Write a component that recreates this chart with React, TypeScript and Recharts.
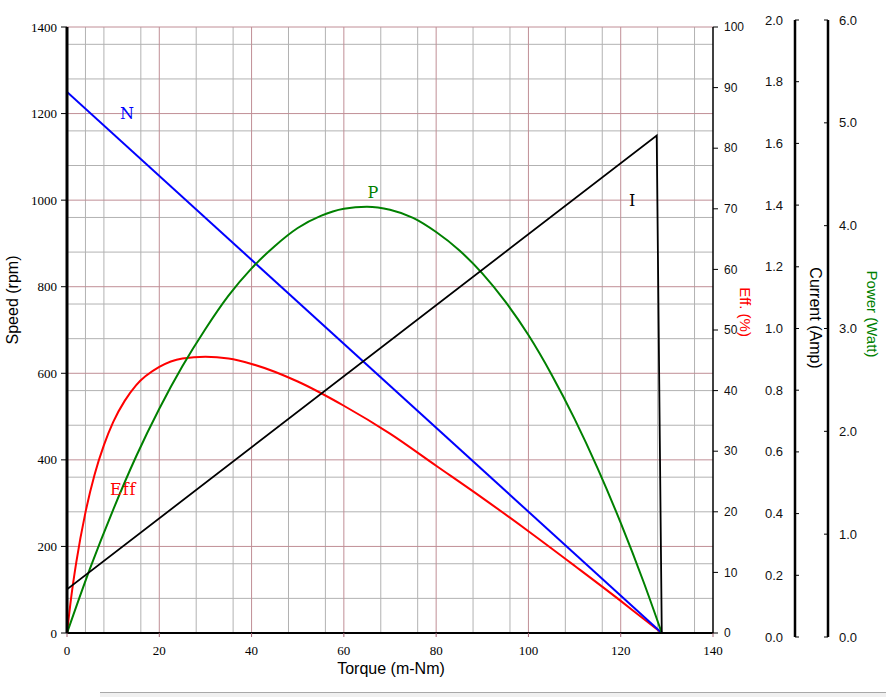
import {
  ComposedChart, Line, XAxis, YAxis, CartesianGrid, ReferenceDot,
} from 'recharts';

// torque axis (m-Nm)
const torqueTicks = [0, 20, 40, 60, 80, 100, 120, 140];
const speedTicks = [0, 200, 400, 600, 800, 1000, 1200, 1400];
const effTicks = [0, 10, 20, 30, 40, 50, 60, 70, 80, 90, 100];
const currentTicks = [0, 0.2, 0.4, 0.6, 0.8, 1.0, 1.2, 1.4, 1.6, 1.8, 2.0];
const powerTicks = [0, 1, 2, 3, 4, 5, 6];

// grid lines
const gridMinorSpeed = [40, 80, 120, 160, 240, 280, 320, 360, 440, 480, 520, 560, 640, 680, 720, 760, 840, 880, 920, 960, 1040, 1080, 1120, 1160, 1240, 1280, 1320, 1360];
const gridMajorSpeed = [200, 400, 600, 800, 1000, 1200, 1400];
const gridMinorTorque = [4, 8, 12, 16, 24, 28, 32, 36, 44, 48, 52, 56, 64, 68, 72, 76, 84, 88, 92, 96, 104, 108, 112, 116, 124, 128, 132, 136];
const gridMajorTorque = [20, 40, 60, 80, 100, 120];

// N - speed (rpm)
const speedTorque = [0, 128.9];
const speedValues = [1250, 0];

// I - current (A)
const currentTorque = [0, 127.8, 128.9];
const currentValues = [0.144, 1.642, 0];

// P - output power (W)
const powerTorque = [0, 5, 10, 15, 20, 25, 30, 35, 40, 45, 50, 55, 60, 65, 70, 75, 80, 85, 90, 95, 100, 105, 110, 115, 120, 125, 128.9];
const powerValues = [0, 0.64, 1.22, 1.75, 2.22, 2.64, 3.01, 3.34, 3.61, 3.83, 4.01, 4.13, 4.2, 4.22, 4.19, 4.11, 3.97, 3.79, 3.56, 3.28, 2.95, 2.56, 2.12, 1.63, 1.09, 0.5, 0];

// Eff - efficiency (%)
const effTorque = [0, 1, 2, 4, 6, 8, 10, 12.5, 15, 20, 25, 30, 35, 40, 50, 60, 70, 80, 90, 100, 110, 120, 125, 128.9];
const effValues = [0, 6.4, 11.6, 19.9, 26.2, 31.0, 34.8, 38.3, 40.9, 43.9, 45.3, 45.6, 45.3, 44.4, 41.5, 37.5, 32.9, 27.6, 22.3, 16.8, 11.1, 5.3, 2.3, 0];

const zip = (xs: number[], ys: number[]) => xs.map((t, i) => ({ t, v: ys[i] }));

const speedData = zip(speedTorque, speedValues);
const currentData = zip(currentTorque, currentValues);
const powerData = zip(powerTorque, powerValues);
const effData = zip(effTorque, effValues);

const W = 886;
const H = 697;

const serifTick = { fill: '#000', fontSize: 13, fontFamily: 'Liberation Serif, serif' };
const sans = 'Liberation Sans, Arial, sans-serif';

function CurrentTick(props: any) {
  const { x, y, payload } = props;
  return (
    <g>
      <line x1={x} x2={x + 4} y1={y} y2={y} stroke="#000" />
      <text x={x - 12} y={y} dy="0.35em" textAnchor="end" fontSize={13} fontFamily={sans} fill="#111">
        {Number(payload.value).toFixed(1)}
      </text>
    </g>
  );
}

function PowerTick(props: any) {
  const { x, y, payload } = props;
  return (
    <g>
      <line x1={x - 4} x2={x} y1={y} y2={y} stroke="#000" />
      <text x={x + 11} y={y} dy="0.35em" textAnchor="start" fontSize={13} fontFamily={sans} fill="#111">
        {Number(payload.value).toFixed(1)}
      </text>
    </g>
  );
}

const curveLabel = (value: string, fill: string, spacing = 0) => ({
  value,
  fill,
  fontSize: 16,
  fontFamily: 'DejaVu Serif, serif',
  letterSpacing: spacing,
  position: 'center' as const,
});

export default function App() {
  return (
    <div style={{ position: 'absolute', left: 0, top: 0, width: W, height: H, background: '#fff', overflow: 'hidden' }}>
      {/* main chart: speed + efficiency, plus current/power curves */}
      <div style={{ position: 'absolute', left: 0, top: 0 }}>
        <ComposedChart width={W} height={H} margin={{ top: 27, right: 133, bottom: 24, left: 7 }}>
          <CartesianGrid
            yAxisId="speed"
            horizontalValues={gridMinorSpeed}
            verticalValues={gridMinorTorque}
            stroke="#b2b2b2"
          />
          <CartesianGrid
            yAxisId="speed"
            horizontalValues={gridMajorSpeed}
            verticalValues={gridMajorTorque}
            stroke="#c08e96"
          />
          <XAxis
            dataKey="t"
            type="number"
            domain={[0, 140]}
            ticks={torqueTicks}
            allowDataOverflow
            height={40}
            axisLine={{ stroke: '#000', strokeWidth: 2 }}
            tickLine={{ stroke: '#a06070' }}
            tickSize={4}
            tickMargin={9}
            tick={serifTick}
          />
          <YAxis
            yAxisId="speed"
            orientation="left"
            type="number"
            domain={[0, 1400]}
            ticks={speedTicks}
            allowDataOverflow
            width={60}
            axisLine={{ stroke: '#000', strokeWidth: 3 }}
            tickLine={{ stroke: '#000' }}
            tickSize={6}
            tickMargin={4}
            tick={serifTick}
          />
          <YAxis
            yAxisId="eff"
            orientation="right"
            type="number"
            domain={[0, 100]}
            ticks={effTicks}
            allowDataOverflow
            width={40}
            axisLine={{ stroke: '#000', strokeWidth: 1.5 }}
            tickLine={{ stroke: '#000' }}
            tickSize={5}
            tickMargin={6}
            tick={{ fill: '#111', fontSize: 12, fontFamily: sans }}
          />
          <YAxis yAxisId="cur" orientation="right" hide width={0} type="number" domain={[0, 2]} allowDataOverflow />
          <YAxis yAxisId="pow" orientation="right" hide width={0} type="number" domain={[0, 6]} allowDataOverflow />

          <Line yAxisId="eff" data={effData} dataKey="v" type="monotone" stroke="#ff0000" strokeWidth={2} dot={false} isAnimationActive={false} />
          <Line yAxisId="speed" data={speedData} dataKey="v" type="linear" stroke="#0000ff" strokeWidth={2} dot={false} isAnimationActive={false} />
          <Line yAxisId="pow" data={powerData} dataKey="v" type="monotone" stroke="#008000" strokeWidth={2} dot={false} isAnimationActive={false} />
          <Line yAxisId="cur" data={currentData} dataKey="v" type="linear" stroke="#000" strokeWidth={1.8} dot={false} isAnimationActive={false} />

          <ReferenceDot yAxisId="speed" x={13} y={1200} r={0} fill="none" stroke="none" label={curveLabel('N', '#0000ff')} />
          <ReferenceDot yAxisId="speed" x={66.3} y={1019} r={0} fill="none" stroke="none" label={curveLabel('P', '#008000')} />
          <ReferenceDot yAxisId="speed" x={122.5} y={1000} r={0} fill="none" stroke="none" label={curveLabel('I', '#000')} />
          <ReferenceDot yAxisId="speed" x={12.2} y={332} r={0} fill="none" stroke="none" label={curveLabel('Eff', '#ff0000', 1)} />
        </ComposedChart>
      </div>

      {/* offset current / power axes */}
      <div style={{ position: 'absolute', left: 0, top: 0, pointerEvents: 'none' }}>
        <ComposedChart width={W} height={H} margin={{ top: 20, right: 0, bottom: 60, left: 67 }}>
          <XAxis dataKey="t" type="number" domain={[0, 140]} hide padding={{ left: 0, right: 82 }} />
          <YAxis
            yAxisId="current"
            orientation="right"
            type="number"
            domain={[0, 2]}
            ticks={currentTicks}
            allowDataOverflow
            width={33}
            axisLine={{ stroke: '#000', strokeWidth: 2.5 }}
            tickLine={false}
            tickSize={0}
            tickMargin={0}
            tick={(p: any) => <CurrentTick {...p} />}
          />
          <YAxis
            yAxisId="power"
            orientation="right"
            type="number"
            domain={[0, 6]}
            ticks={powerTicks}
            allowDataOverflow
            width={58}
            axisLine={{ stroke: '#000', strokeWidth: 2.5 }}
            tickLine={false}
            tickSize={0}
            tickMargin={0}
            tick={(p: any) => <PowerTick {...p} />}
          />
        </ComposedChart>
      </div>

      {/* axis titles */}
      <svg width={W} height={H} style={{ position: 'absolute', left: 0, top: 0, pointerEvents: 'none' }}>
        <text x={391} y={674} textAnchor="middle" fontSize={16} fontFamily={sans} fill="#000">Torque (m-Nm)</text>
        <text transform="translate(12,300) rotate(-90)" textAnchor="middle" dominantBaseline="central" fontSize={16} fontFamily={sans} fill="#000">Speed (rpm)</text>
        <text transform="translate(745,312) rotate(90)" textAnchor="middle" dominantBaseline="central" fontSize={15} fontFamily={sans} fill="#ff0000">Eff. (%)</text>
        <text transform="translate(815.5,318) rotate(90)" textAnchor="middle" dominantBaseline="central" fontSize={16} fontFamily={sans} fill="#000">Current (Amp)</text>
        <text transform="translate(872,314) rotate(90)" textAnchor="middle" dominantBaseline="central" fontSize={15} fontFamily={sans} fill="#008000">Power (Watt)</text>
      </svg>

      <div style={{ position: 'absolute', left: 100, top: 692, width: W - 100, height: 5, borderTop: '1px solid #a8a8a8', background: '#f0f0f0' }} />
    </div>
  );
}
